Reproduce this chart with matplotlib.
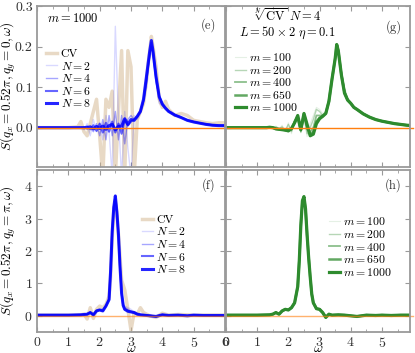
import matplotlib
matplotlib.use("Agg")
import matplotlib.pyplot as plt

plt.rcParams['font.family'] = 'serif'
plt.rcParams['font.serif'] = ['cmr10', 'DejaVu Serif']
plt.rcParams['mathtext.fontset'] = 'cm'
plt.rcParams['axes.formatter.use_mathtext'] = True
plt.rcParams['axes.unicode_minus'] = False

# ---- data -----------------------------------------------------------------
omega_top = [0.0, 0.5, 1.0, 1.3, 1.4, 1.5, 1.6, 1.7, 1.8, 1.9, 2.0, 2.1, 2.2, 2.3,
             2.4, 2.5, 2.6, 2.7, 2.8, 2.9, 3.0, 3.1, 3.2, 3.3, 3.4, 3.5, 3.55, 3.6,
             3.65, 3.7, 3.8, 3.9, 4.0, 4.1, 4.2, 4.4, 4.6, 4.8, 5.0, 5.2, 5.4, 5.6,
             5.8, 6.0]

# panel (e): q_y = 0, m = 1000
e_cv = [0.0, 0.0, 0.0, 0.002, 0.015, -0.01, -0.02, 0.01, 0.04, 0.07, -0.02, -0.12, 0.07, 0.05,
        0.09, -0.12, 0.04, 0.19, -0.12, 0.19, 0.15, -0.12, 0.02, 0.04, 0.06, 0.12, 0.16, 0.19,
        0.225, 0.2, 0.15, 0.07, 0.05, 0.065, 0.045, 0.03, 0.035, 0.03, 0.018, 0.015, 0.012, 0.01,
        0.012, 0.012]
e_n2 = [0.0, 0.0, 0.0, 0.0, 0.002, -0.005, 0.01, -0.02, 0.02, -0.01, 0.01, -0.03, 0.03, -0.01,
        -0.12, 0.25, 0.02, -0.12, 0.04, -0.05, -0.12, 0.03, 0.02, 0.035, 0.06, 0.1, 0.14, 0.17,
        0.19, 0.17, 0.12, 0.06, 0.055, 0.045, 0.04, 0.03, 0.025, 0.02, 0.015, 0.012, 0.01, 0.008,
        0.007, 0.006]
e_n4 = [0.0, 0.0, 0.0, 0.0, 0.0, 0.002, -0.004, 0.0, -0.01, 0.01, -0.02, 0.02, -0.03, 0.03,
        -0.02, 0.04, -0.03, 0.03, -0.04, 0.02, 0.03, 0.02, 0.025, 0.04, 0.065, 0.11, 0.15, 0.18,
        0.2, 0.185, 0.11, 0.08, 0.06, 0.05, 0.042, 0.032, 0.025, 0.019, 0.015, 0.011, 0.009, 0.007,
        0.006, 0.005]
e_n6 = [0.0, 0.0, 0.0, 0.0, 0.0, 0.0, 0.003, -0.004, 0.006, -0.008, 0.01, -0.012, 0.012, -0.01,
        0.015, -0.012, 0.01, -0.015, 0.02, 0.005, 0.015, 0.02, 0.028, 0.04, 0.068, 0.125, 0.155, 0.185,
        0.21, 0.19, 0.125, 0.077, 0.058, 0.048, 0.04, 0.031, 0.025, 0.018, 0.014, 0.011, 0.008, 0.006,
        0.005, 0.005]
e_n8 = [0.0, 0.0, 0.0, 0.0, 0.0, 0.0, 0.0, 0.002, -0.003, 0.003, -0.002, 0.004, -0.004, 0.005,
        0.008, -0.005, 0.003, 0.004, 0.022, 0.008, 0.02, 0.018, 0.028, 0.04, 0.07, 0.13, 0.16, 0.19,
        0.215, 0.19, 0.125, 0.076, 0.058, 0.048, 0.04, 0.031, 0.025, 0.018, 0.014, 0.011, 0.008, 0.006,
        0.005, 0.005]

# panel (g): sqrt[N]{CV}, N = 4
g_m100 = [0.0, 0.0, 0.0, 0.0, 0.0, 0.002, 0.0, -0.004, 0.006, -0.01, 0.012, -0.015, 0.02, 0.01,
          -0.01, 0.02, -0.022, 0.01, 0.03, 0.05, 0.045, 0.035, 0.04, 0.07, 0.12, 0.165, 0.2, 0.19,
          0.16, 0.14, 0.1, 0.075, 0.062, 0.052, 0.046, 0.035, 0.027, 0.02, 0.016, 0.013, 0.01, 0.008,
          0.006, 0.005]
g_m200 = [0.0, 0.0, 0.0, 0.0, 0.0, 0.0, 0.003, -0.003, 0.002, -0.008, 0.008, -0.01, 0.018, 0.02,
          -0.012, 0.03, -0.015, 0.0, 0.02, 0.045, 0.04, 0.03, 0.038, 0.068, 0.12, 0.168, 0.2, 0.19,
          0.165, 0.138, 0.095, 0.072, 0.06, 0.05, 0.045, 0.034, 0.026, 0.02, 0.016, 0.013, 0.01, 0.008,
          0.006, 0.005]
g_m400 = [0.0, 0.0, 0.0, 0.0, 0.001, 0.0, -0.002, -0.004, -0.002, -0.007, -0.004, -0.006, 0.015, 0.025,
          -0.008, 0.032, -0.005, -0.01, 0.0, 0.03, 0.03, 0.03, 0.036, 0.066, 0.12, 0.17, 0.203, 0.192,
          0.162, 0.133, 0.09, 0.07, 0.06, 0.05, 0.045, 0.034, 0.026, 0.02, 0.016, 0.013, 0.01, 0.008,
          0.006, 0.005]
g_m650 = [0.0, 0.0, 0.0, 0.0, 0.001, 0.0, -0.003, -0.004, -0.005, -0.006, -0.007, -0.003, 0.013, 0.028,
          -0.006, 0.034, 0.005, -0.018, -0.01, 0.015, 0.024, 0.028, 0.035, 0.065, 0.12, 0.17, 0.205, 0.19,
          0.16, 0.13, 0.086, 0.068, 0.06, 0.05, 0.045, 0.034, 0.026, 0.02, 0.016, 0.013, 0.01, 0.008,
          0.006, 0.005]
g_m1000 = [0.0, 0.0, 0.0, 0.0, 0.001, 0.0, -0.003, -0.004, -0.005, -0.006, -0.008, -0.002, 0.012, 0.03,
           -0.005, 0.035, 0.008, -0.02, -0.016, 0.01, 0.022, 0.028, 0.035, 0.065, 0.12, 0.17, 0.205, 0.19,
           0.16, 0.13, 0.085, 0.068, 0.06, 0.05, 0.045, 0.034, 0.026, 0.02, 0.016, 0.013, 0.01, 0.008,
           0.006, 0.005]

omega_bot = [0.0, 0.5, 1.0, 1.4, 1.5, 1.6, 1.7, 1.8, 1.9, 2.0, 2.1, 2.2, 2.3, 2.35, 2.4, 2.45,
             2.5, 2.55, 2.6, 2.65, 2.7, 2.75, 2.8, 2.9, 3.0, 3.1, 3.2, 3.3, 3.4, 3.6, 3.8, 4.0,
             4.2, 4.5, 4.8, 5.0, 5.3, 5.6, 6.0]

# panel (f): q_y = pi, m = 1000
f_cv = [0.02, 0.02, 0.02, 0.03, 0.05, -0.1, 0.25, -0.08, 0.2, 0.3, 0.25, 0.35, 0.6, 1.2, 2.4, 3.2,
        3.55, 3.1, 2.5, 1.8, 1.1, 0.95, 0.8, 0.2, -0.45, 0.1, 0.05, 0.25, 0.1, 0.0, -0.05, 0.08,
        0.02, 0.04, 0.03, 0.02, 0.02, 0.02, 0.02]
f_n2 = [0.02, 0.02, 0.02, 0.03, 0.04, 0.02, 0.12, 0.0, 0.18, 0.2, 0.22, 0.3, 0.55, 1.3, 2.5, 3.3,
        3.6, 3.15, 2.45, 1.6, 0.8, 0.45, 0.3, 0.25, 0.2, 0.12, 0.08, 0.05, 0.04, 0.02, -0.03, 0.03,
        0.0, 0.03, 0.01, 0.02, 0.02, 0.02, 0.02]
f_n4 = [0.02, 0.02, 0.02, 0.03, 0.04, 0.04, 0.11, 0.02, 0.16, 0.19, 0.17, 0.3, 0.52, 1.35, 2.55, 3.3,
        3.65, 3.2, 2.5, 1.55, 0.75, 0.35, 0.25, 0.2, 0.15, 0.1, 0.06, 0.04, 0.03, 0.01, -0.02, 0.03,
        0.01, 0.02, 0.0, 0.02, 0.01, 0.01, 0.01]
f_n6 = [0.02, 0.02, 0.02, 0.03, 0.04, 0.05, 0.1, 0.03, 0.15, 0.18, 0.15, 0.3, 0.5, 1.4, 2.6, 3.35,
        3.7, 3.2, 2.5, 1.5, 0.7, 0.32, 0.2, 0.15, 0.12, 0.1, 0.05, 0.03, 0.02, 0.0, -0.02, 0.03,
        0.01, 0.02, 0.0, 0.02, 0.01, 0.01, 0.01]
f_n8 = [0.02, 0.02, 0.02, 0.03, 0.04, 0.05, 0.1, 0.03, 0.15, 0.18, 0.15, 0.3, 0.5, 1.4, 2.6, 3.35,
        3.7, 3.2, 2.5, 1.5, 0.7, 0.32, 0.2, 0.14, 0.12, 0.1, 0.05, 0.03, 0.02, 0.0, -0.02, 0.03,
        0.01, 0.02, 0.0, 0.02, 0.01, 0.01, 0.01]

# panel (h): sqrt[N]{CV}, q_y = pi
h_m100 = [0.02, 0.02, 0.02, 0.03, 0.06, 0.12, 0.06, 0.14, 0.22, 0.2, 0.26, 0.42, 0.9, 1.65, 2.75, 3.5,
          3.6, 3.3, 2.55, 1.85, 1.25, 0.72, 0.45, 0.25, 0.22, 0.12, 0.0, 0.06, 0.03, 0.04, 0.02, 0.01,
          -0.01, 0.03, 0.02, 0.02, 0.01, 0.02, 0.02]
h_m200 = [0.02, 0.02, 0.02, 0.03, 0.05, 0.11, 0.05, 0.15, 0.21, 0.19, 0.25, 0.41, 0.9, 1.7, 2.8, 3.55,
          3.6, 3.3, 2.5, 1.8, 1.2, 0.7, 0.42, 0.24, 0.21, 0.11, -0.02, 0.05, 0.02, 0.03, 0.02, 0.0,
          -0.02, 0.02, 0.01, 0.02, 0.01, 0.02, 0.02]
h_m400 = [0.02, 0.02, 0.02, 0.03, 0.05, 0.1, 0.05, 0.15, 0.2, 0.18, 0.25, 0.4, 0.9, 1.7, 2.8, 3.55,
          3.62, 3.3, 2.5, 1.8, 1.2, 0.68, 0.4, 0.22, 0.2, 0.1, -0.04, 0.05, 0.02, 0.03, 0.02, 0.0,
          -0.02, 0.02, 0.01, 0.02, 0.01, 0.02, 0.02]
h_m650 = [0.02, 0.02, 0.02, 0.03, 0.05, 0.1, 0.05, 0.15, 0.2, 0.18, 0.25, 0.4, 0.9, 1.7, 2.8, 3.55,
          3.65, 3.3, 2.5, 1.8, 1.2, 0.67, 0.4, 0.22, 0.2, 0.1, -0.05, 0.05, 0.02, 0.03, 0.02, 0.0,
          -0.02, 0.02, 0.01, 0.02, 0.01, 0.02, 0.02]
h_m1000 = [0.02, 0.02, 0.02, 0.03, 0.05, 0.1, 0.05, 0.15, 0.2, 0.18, 0.25, 0.4, 0.9, 1.7, 2.8, 3.55,
           3.68, 3.3, 2.5, 1.8, 1.2, 0.67, 0.4, 0.22, 0.2, 0.1, -0.05, 0.05, 0.02, 0.03, 0.02, 0.0,
           -0.02, 0.02, 0.01, 0.02, 0.01, 0.02, 0.02]

n_labels = ['CV', '$N=2$', '$N=4$', '$N=6$', '$N=8$']
m_labels = ['$m=100$', '$m=200$', '$m=400$', '$m=650$', '$m=1000$']

# ---- styles ---------------------------------------------------------------
blue_styles = [('tan', 0.5, 2.5), ('blue', 0.15, 1.0), ('blue', 0.35, 1.0),
               ('blue', 0.6, 1.5), ('blue', 0.85, 2.2)]
green_styles = [('#2e8b2e', 0.12, 0.8), ('#2e8b2e', 0.35, 1.0), ('#2e8b2e', 0.55, 1.3),
                ('#2e8b2e', 0.75, 1.8), ('#2e8b2e', 1.0, 2.3)]
spine_gray = '#9a9a9a'

fig = plt.figure(figsize=(4.15, 3.53), dpi=100)
ax_e = fig.add_axes([37 / 415, 1 - 167 / 353, 188 / 415, 161 / 353])
ax_g = fig.add_axes([226 / 415, 1 - 167 / 353, 184 / 415, 161 / 353])
ax_f = fig.add_axes([37 / 415, 1 - 332 / 353, 188 / 415, 162 / 353])
ax_h = fig.add_axes([226 / 415, 1 - 332 / 353, 184 / 415, 162 / 353])


def draw(ax, x, series, styles, labels, orange_alpha):
    for y, (c, a, lw), lab in zip(series, styles, labels):
        ax.plot(x, y, color=c, alpha=a, lw=lw, label=lab)
    ax.plot([0, 6], [0, 0], color='#ff7f0e', lw=1.0, alpha=orange_alpha, clip_on=False)


draw(ax_e, omega_top, [e_cv, e_n2, e_n4, e_n6, e_n8], blue_styles, n_labels, 1.0)
draw(ax_g, omega_top, [g_m100, g_m200, g_m400, g_m650, g_m1000], green_styles, m_labels, 1.0)
draw(ax_f, omega_bot, [f_cv, f_n2, f_n4, f_n6, f_n8], blue_styles, n_labels, 0.6)
draw(ax_h, omega_bot, [h_m100, h_m200, h_m400, h_m650, h_m1000], green_styles, m_labels, 0.6)

for ax in (ax_e, ax_g):
    ax.set_ylim(-0.097, 0.3)
    ax.set_yticks([0.0, 0.1, 0.2, 0.3])
for ax in (ax_f, ax_h):
    ax.set_ylim(-0.5, 4.5)
    ax.set_yticks([0, 1, 2, 3, 4])

for ax in (ax_e, ax_f):
    ax.set_xlim(0, 6)
    ax.set_xticks([0, 1, 2, 3, 4, 5, 6])
for ax in (ax_g, ax_h):
    ax.set_xlim(0, 5.9)
    ax.set_xticks([0, 1, 2, 3, 4, 5])

for ax in (ax_e, ax_g, ax_f, ax_h):
    ax.set_xticks([0.5, 1.5, 2.5, 3.5, 4.5, 5.5], minor=True)
    ax.tick_params(which='both', direction='in', top=True, right=True,
                   color=spine_gray, labelsize=10, labelcolor='#333333', pad=3)
    ax.tick_params(which='major', length=3.5, width=0.8)
    ax.tick_params(which='minor', length=2.5, width=0.6)
    for s in ax.spines.values():
        s.set_color(spine_gray)
        s.set_linewidth(1.3)

ax_e.tick_params(labelbottom=False)
ax_g.tick_params(labelbottom=False, labelleft=False)
ax_h.tick_params(labelleft=False)
ax_e.set_yticklabels(['0.0', '0.1', '0.2', '0.3'])

ax_e.set_ylabel(r'$S(q_x=0.52\pi, q_y=0, \omega)$', fontsize=9.5)
ax_f.set_ylabel(r'$S(q_x=0.52\pi, q_y=\pi, \omega)$', fontsize=9.5)
ax_e.yaxis.set_label_coords(-0.1, 0.5)
ax_f.yaxis.set_label_coords(-0.1, 0.5)
ax_f.set_xlabel(r'$\omega$', fontsize=10)
ax_h.set_xlabel(r'$\omega$', fontsize=10)
ax_f.xaxis.set_label_coords(0.5, -0.068)
ax_h.xaxis.set_label_coords(0.5, -0.068)

ax_e.text(0.053, 0.925, '$m=1000$', transform=ax_e.transAxes, fontsize=9, va='center')
ax_g.text(0.335, 0.94, r'$\sqrt[N]{\mathrm{CV}}\ N=4$', transform=ax_g.transAxes,
          fontsize=9, ha='center', va='center')
ax_g.text(0.335, 0.835, r'$L=50\times2\ \eta=0.1$', transform=ax_g.transAxes,
          fontsize=9, ha='center', va='center')

for ax, lab, y in ((ax_e, '(e)', 0.88), (ax_g, '(g)', 0.87), (ax_f, '(f)', 0.905), (ax_h, '(h)', 0.905)):
    ax.text(0.91, y, lab, transform=ax.transAxes, fontsize=9, ha='center', va='center',
            color='#333333')

leg_kw = dict(frameon=False, fontsize=8.5, handlelength=0.9, handletextpad=0.3,
              labelspacing=0.05, borderaxespad=0, borderpad=0, loc='upper left')
ax_e.legend(bbox_to_anchor=(0.05, 0.735), **leg_kw)
ax_g.legend(bbox_to_anchor=(0.05, 0.72), **leg_kw)
ax_f.legend(bbox_to_anchor=(0.56, 0.725), **leg_kw)
ax_h.legend(bbox_to_anchor=(0.56, 0.72), **leg_kw)

fig.savefig('out.png', dpi=100)
